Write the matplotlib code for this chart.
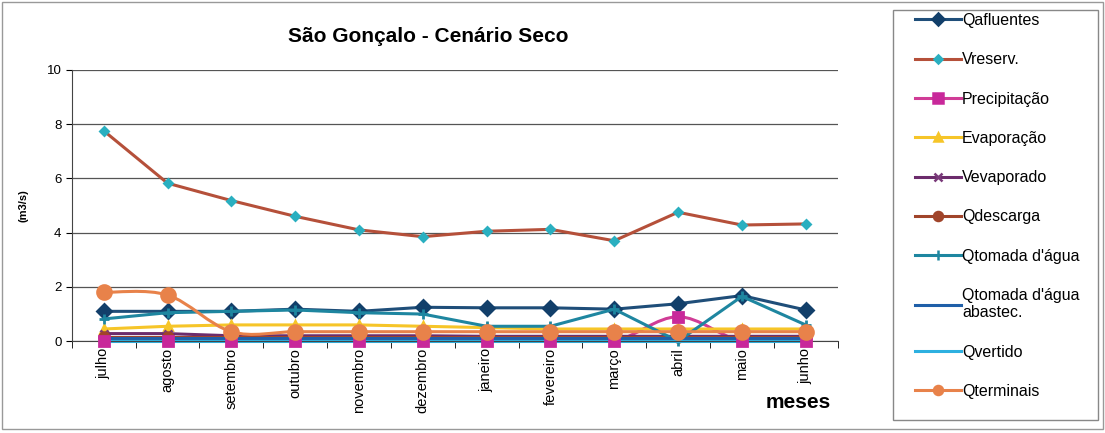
import matplotlib.pyplot as plt
from matplotlib.path import Path
from matplotlib.patches import PathPatch
from matplotlib.lines import Line2D
import numpy as np

plt.rcParams['font.family'] = ['Liberation Sans', 'DejaVu Sans']

# ---- data (m3/s per month) ----
meses = ["julho", "agosto", "setembro", "outubro", "novembro", "dezembro",
         "janeiro", "fevereiro", "março", "abril", "maio", "junho"]

qafluentes = [1.1, 1.1, 1.1, 1.18, 1.1, 1.25, 1.23, 1.23, 1.18, 1.38, 1.68, 1.15]
vreserv = [7.75, 5.82, 5.18, 4.6, 4.1, 3.85, 4.05, 4.12, 3.7, 4.75, 4.28, 4.32]
precipitacao = [0.0, 0.0, 0.0, 0.0, 0.0, 0.0, 0.0, 0.0, 0.0, 0.9, 0.0, 0.0]
evaporacao = [0.45, 0.55, 0.6, 0.6, 0.6, 0.55, 0.5, 0.45, 0.45, 0.45, 0.45, 0.45]
vevaporado = [0.28, 0.28, 0.2, 0.2, 0.2, 0.2, 0.18, 0.18, 0.18, 0.18, 0.18, 0.18]
qdescarga = [0.15, 0.15, 0.15, 0.15, 0.15, 0.15, 0.15, 0.15, 0.15, 0.15, 0.15, 0.15]
qtomada = [0.82, 1.05, 1.1, 1.15, 1.05, 1.0, 0.55, 0.55, 1.18, 0.0, 1.65, 0.6]
qtomada_abast = [0.1, 0.1, 0.1, 0.1, 0.1, 0.1, 0.1, 0.1, 0.1, 0.1, 0.1, 0.1]
qvertido = [0.02, 0.02, 0.02, 0.02, 0.02, 0.02, 0.02, 0.02, 0.02, 0.02, 0.02, 0.02]
qterminais = [1.8, 1.7, 0.35, 0.35, 0.35, 0.35, 0.35, 0.35, 0.35, 0.35, 0.35, 0.35]

x = np.arange(len(meses))


def smooth_path(xs, ys):
    # Catmull-Rom segments expressed as cubic Bezier path codes
    verts = [(xs[0], ys[0])]
    codes = [Path.MOVETO]
    n = len(xs)
    for i in range(n - 1):
        p0 = np.array([xs[max(i - 1, 0)], ys[max(i - 1, 0)]])
        p1 = np.array([xs[i], ys[i]])
        p2 = np.array([xs[i + 1], ys[i + 1]])
        p3 = np.array([xs[min(i + 2, n - 1)], ys[min(i + 2, n - 1)]])
        c1 = p1 + (p2 - p0) / 6.0
        c2 = p2 - (p3 - p1) / 6.0
        verts += [tuple(c1), tuple(c2), tuple(p2)]
        codes += [Path.CURVE4] * 3
    return Path(verts, codes)


series = [
    # label, values, line colour, marker, marker colour, size, smooth
    ("Qafluentes", qafluentes, "#1F4E79", "D", "#123F6A", 7, False),
    ("Vreserv.", vreserv, "#B5503A", "D", "#2AAFC0", 4.5, False),
    ("Precipitação", precipitacao, "#D03C96", "s", "#C8289A", 7.5, True),
    ("Evaporação", evaporacao, "#F6C528", "^", "#F6C528", 6, False),
    ("Vevaporado", vevaporado, "#6C2C6C", "x", "#7A3A7A", 6, False),
    ("Qdescarga", qdescarga, "#A0442A", "o", "#A0442A", 7, False),
    ("Qtomada d'água", qtomada, "#1E86A0", "+", "#1E86A0", 7, False),
    ("Qtomada d'água\nabastec.", qtomada_abast, "#1F5FA8", None, None, 0, False),
    ("Qvertido", qvertido, "#2DB0E0", None, None, 0, False),
    ("Qterminais", qterminais, "#E8824A", "o", "#E8824A", 10, True),
]

fig = plt.figure(figsize=(11.05, 4.33), dpi=100)
ax = fig.add_axes([0.065, 0.212, 0.693, 0.627])

handles = []
for label, vals, lc, mk, mc, ms, smooth in series:
    if smooth:
        ax.add_patch(PathPatch(smooth_path(x, vals), fill=False, edgecolor=lc,
                               lw=2.2, zorder=2, transform=ax.transData))
        ax.plot(x, vals, linestyle="none", marker=mk, markersize=ms,
                color=mc, mec=mc, mew=2, zorder=3, clip_on=False)
    else:
        ax.plot(x, vals, color=lc, lw=2.2, marker=mk, markersize=ms,
                mfc=mc, mec=mc, mew=2, zorder=2, clip_on=False)
    handles.append(Line2D([], [], color=lc, lw=2.2, marker=mk,
                          markersize=min(ms, 6.5) if mk else 0,
                          mfc=mc, mec=mc, mew=1.8, label=label))

ax.set_xlim(-0.5, len(meses) - 0.5)
ax.set_ylim(0, 10)
ax.set_yticks([0, 2, 4, 6, 8, 10])
ax.tick_params(axis="y", labelsize=9.5, length=4, direction="out")
ax.set_xticks(x)
ax.set_xticklabels(meses, rotation=90, fontsize=10.5)
ax.tick_params(axis="x", length=0, pad=5)
ax.set_xticks(np.arange(-0.5, len(meses)), minor=True)
ax.tick_params(axis="x", which="minor", length=5, direction="out")
ax.grid(axis="y", color="#555555", lw=0.9)
ax.set_axisbelow(True)
for s in ["top", "right"]:
    ax.spines[s].set_visible(False)
ax.spines["left"].set_color("#444444")
ax.spines["bottom"].set_color("#444444")

ax.set_ylabel("(m3/s)", fontsize=8, fontweight="bold", labelpad=13)
fig.text(0.388, 0.915, "São Gonçalo - Cenário Seco", ha="center", va="center",
         fontsize=15, fontweight="bold")
fig.text(0.722, 0.07, "meses", ha="center", va="center",
         fontsize=15, fontweight="bold")

# legend box on the right
fig.patches.append(plt.Rectangle((0.808, 0.030), 0.1855, 0.947, fill=False,
                                 edgecolor="#888888", lw=1,
                                 transform=fig.transFigure))
leg = fig.legend(handles=handles, loc="upper left",
                 bbox_to_anchor=(0.828, 0.970), fontsize=11.5, frameon=False,
                 labelspacing=1.52, handlelength=2.9, handletextpad=0.05,
                 borderpad=0, borderaxespad=0)

# outer chart frame
fig.patches.append(plt.Rectangle((0.002, 0.01), 0.996, 0.985, fill=False,
                                 edgecolor="#999999", lw=1,
                                 transform=fig.transFigure))

fig.savefig("out.png", dpi=100)
